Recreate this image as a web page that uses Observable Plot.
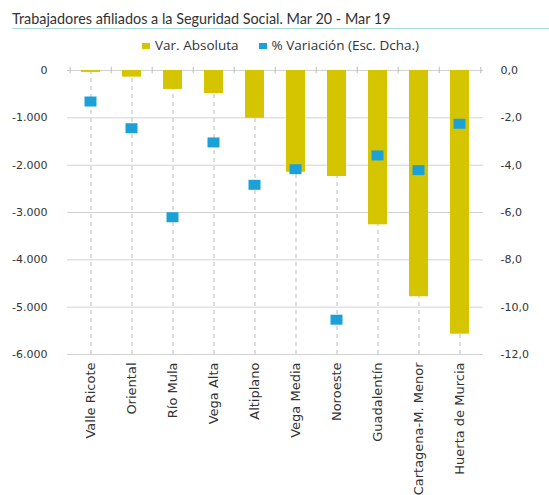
<!DOCTYPE html>
<html>
<head>
<meta charset="utf-8">
<script src="https://cdn.jsdelivr.net/npm/d3@7"></script>
<script src="https://cdn.jsdelivr.net/npm/@observablehq/plot@0.6"></script>
<style>
  body { margin: 0; background: #fff; width: 549px; height: 495px; overflow: hidden; }
  #title { font-family: Lato, "Open Sans", sans-serif; font-size: 14.4px; color: #333; height: 29px; line-height: 37px; border-bottom: 1.5px solid #a6dcd7; box-sizing: border-box; margin-left: 12px; white-space: nowrap; }
  #legend { height: 27px; display: flex; justify-content: center; align-items: center; gap: 20px; padding-left: 12px; font-family: "Open Sans", sans-serif; font-size: 13.5px; color: #333; box-sizing: border-box; padding-top: 4px; }
  #legend span.sw { display: inline-block; width: 8px; height: 6px; margin-right: 5px; vertical-align: middle; }
</style>
</head>
<body>
<div id="title">Trabajadores afiliados a la Seguridad Social. Mar 20 - Mar 19</div>
<div id="legend">
  <div><span class="sw" style="background:#d4c500"></span>Var. Absoluta</div>
  <div><span class="sw" style="background:#1ba1d8"></span>% Variación (Esc. Dcha.)</div>
</div>
<div id="chart"></div>
<script>
const categories = ["Valle Ricote","Oriental","Río Mula","Vega Alta","Altiplano","Vega Media","Noroeste","Guadalentín","Cartagena-M. Menor","Huerta de Murcia"];
const absVar = [-40, -140, -400, -490, -1010, -2150, -2240, -3260, -4780, -5570];
const pctVar = [-1.31, -2.44, -6.2, -3.04, -4.83, -4.17, -10.53, -3.59, -4.21, -2.25];
const leftTicks = [0, -1000, -2000, -3000, -4000, -5000, -6000];
const rightTicks = [0, -2, -4, -6, -8, -10, -12];

const RATIO = 500; // -12,0 on the right matches -6.000 on the left
const W = 549, H = 439, ML = 67, MR = 66, MT = 14, MB = 141;
const bw = (W - ML - MR) / categories.length;

const rows = categories.map((c, i) => ({cat: c, abs: absVar[i], pct: pctVar[i], pctScaled: pctVar[i] * RATIO}));

const locale = d3.formatLocale({decimal: ",", thousands: ".", grouping: [3], currency: ["", ""], minus: "-"});
const fmtLeft = locale.format(",");
const fmtRight = locale.format(",.1f");

const chart = Plot.plot({
  width: W, height: H,
  marginLeft: ML, marginRight: MR, marginTop: MT, marginBottom: MB,
  style: {fontFamily: "DejaVu Sans, sans-serif", fontSize: "11px", color: "#333", background: "#fff"},
  x: {domain: categories, padding: 0, label: null},
  y: {domain: [-6000, 0], label: null},
  marks: [
    Plot.ruleY(leftTicks, {stroke: "#d2d2d2", strokeWidth: 1}),
    Plot.ruleX(rows, {x: "cat", y1: 0, y2: -6000, stroke: "#bdbdbd", strokeDasharray: "4,4", strokeWidth: 1}),
    Plot.barY(rows, {x: "cat", y: "abs", fill: "#d4c500", insetLeft: 11, insetRight: 11}),
    Plot.ruleX(rows, {x: "cat", y1: 70, y2: -70, dx: -bw / 2, stroke: "#bdbdbd"}),
    Plot.ruleX(rows.slice(-1), {x: "cat", y1: 70, y2: -70, dx: bw / 2, stroke: "#bdbdbd"}),
    Plot.tickY(rows, {x: "cat", y: "pctScaled", stroke: "#1ba1d8", strokeWidth: 10, insetLeft: 14.5, insetRight: 14.5}),
    Plot.axisY({anchor: "left", ticks: leftTicks, tickFormat: fmtLeft, tickSize: 0, tickPadding: 20}),
    Plot.axisY({anchor: "right", ticks: rightTicks.map(v => v * RATIO), tickFormat: d => fmtRight(d / RATIO), tickSize: 0, tickPadding: 17}),
    Plot.axisX({anchor: "bottom", tickSize: 0, tickPadding: 8, tickRotate: -90, fontSize: "13px"})
  ]
});
document.getElementById("chart").appendChild(chart);
</script>
</body>
</html>
